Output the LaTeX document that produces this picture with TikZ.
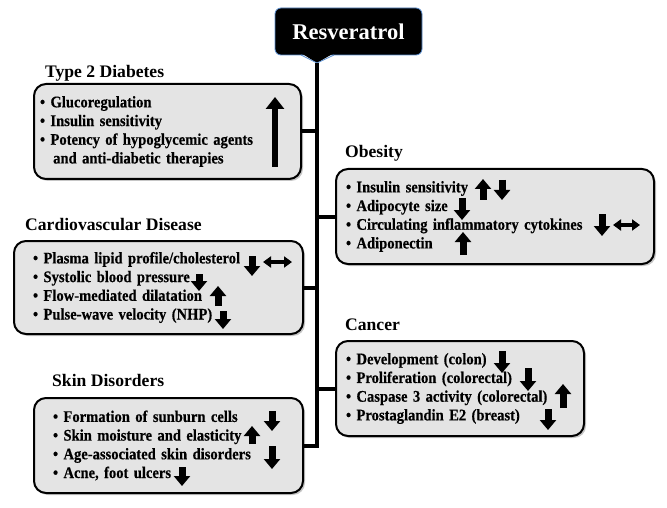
\documentclass[tikz,border=0pt]{standalone}
\usepackage{fontspec}
\setmainfont{Liberation Serif}
\newfontfamily\itemfont{Liberation Serif}[FakeStretch=0.9, WordSpace=0.85, FakeBold=0.4]
\usetikzlibrary{arrows.meta,shadows}
\definecolor{panelgray}{HTML}{E4E4E4}
\definecolor{edgeblue}{HTML}{5B8FD0}
\tikzset{
  panel/.style={draw=black, line width=2pt, fill=panelgray, rounded corners=12pt,
    drop shadow={shadow xshift=2pt, shadow yshift=-2pt, opacity=0.45},
    align=left, anchor=north west, inner ysep=4pt,
    font=\itemfont\fontsize{16.2}{18.7}\selectfont\bfseries},
  heading/.style={anchor=base west, inner sep=0pt, font=\fontsize{17.6}{20}\selectfont\bfseries},
  trunk/.style={line width=4pt},
  uparr/.style={line width=7pt, -{Triangle[width=16pt,length=10pt]}},
  dnarr/.style={line width=7pt, -{Triangle[width=16pt,length=10pt]}},
  both/.style={line width=4.5pt, {Triangle[width=11pt,length=8pt]}-{Triangle[width=11pt,length=8pt]}}
}
\begin{document}
\begin{tikzpicture}[x=1pt,y=-1pt]
  \useasboundingbox (0,0) rectangle (667,508);
  % title
  \node[fill=black, draw=edgeblue, line width=0.8pt, rounded corners=6pt,
    minimum width=147pt, minimum height=47pt, text=white,
    font=\fontsize{22.5}{24}\selectfont\bfseries] (res) at (348.5,31.5) {Resveratrol};
  \coordinate (tip) at (317,63);
  \fill[black] (301,53) -- (tip) -- (334,53) -- cycle;
  \draw[edgeblue, line width=0.8pt] (301,55) -- (tip) -- (334,55);

  % panels
  \node[panel, minimum height=95pt, inner xsep=6pt, text width=255pt] (dia) at (33,83)
    {• Glucoregulation\\• Insulin sensitivity\\• Potency of hypoglycemic agents\\\hphantom{•\ }\,and anti-diabetic therapies};
  \node[panel, minimum height=95pt, inner xsep=10pt, text width=298pt] (obe) at (335,168)
    {• Insulin sensitivity\\• Adipocyte size\\• Circulating inflammatory cytokines\\• Adiponectin};
  \node[panel, minimum height=93pt, inner xsep=19pt, text width=251pt] (cvd) at (13,240)
    {• Plasma lipid profile/cholesterol\\• Systolic blood pressure\\• Flow-mediated dilatation\\• Pulse-wave velocity (NHP)};
  \node[panel, minimum height=95pt, inner xsep=10pt, text width=228pt] (can) at (335,340)
    {• Development (colon)\\• Proliferation (colorectal)\\• Caspase 3 activity (colorectal)\\• Prostaglandin E2 (breast)};
  \node[panel, minimum height=95pt, inner xsep=19pt, text width=231pt] (skin) at (33,397)
    {• Formation of sunburn cells\\• Skin moisture and elasticity\\• Age-associated skin disorders\\• Acne, foot ulcers};

  % headings
  \node[heading] (diat) at (45,78) {Type 2 Diabetes};
  \node[heading] (obet) at (345,158) {Obesity};
  \node[heading] (cvdt) at (25,230) {Cardiovascular Disease};
  \node[heading] (cant) at (345,330) {Cancer};
  \node[heading] (skint) at (52,386) {Skin Disorders};

  % trunk and branches
  \draw[trunk] (tip) |- (skin.east);
  \draw[trunk] (dia.east) -- (dia.east -| tip);
  \draw[trunk] (obe.west) -- (obe.west -| tip);
  \draw[trunk] (cvd.east) -- (cvd.east -| tip);
  \draw[trunk] (can.west) -- (can.west -| tip);

  % effect arrows
  \draw[line width=6.5pt, -{Triangle[width=18pt,length=12pt]}] (275,167) -- (275,97);

  \draw[uparr] (483,200) -- (483,179);
  \draw[dnarr] (502,180) -- (502,200);
  \draw[dnarr] (462,198) -- (462,220);
  \draw[dnarr] (602,214) -- (602,236);
  \draw[both] (613,225) -- (640,225);
  \draw[uparr] (463,255) -- (463,232);

  \draw[dnarr] (252,256) -- (252,276);
  \draw[both] (263,262) -- (292,262);
  \draw[dnarr] (199,274) -- (199,291);
  \draw[uparr] (218,306) -- (218,286);
  \draw[dnarr] (223,311) -- (223,329);

  \draw[dnarr] (502,351) -- (502,373);
  \draw[dnarr] (528,368) -- (528,391);
  \draw[uparr] (563,408) -- (563,384);
  \draw[dnarr] (548,409) -- (548,430);

  \draw[dnarr] (272,411) -- (272,431);
  \draw[uparr] (252,444) -- (252,426);
  \draw[dnarr] (272,446) -- (272,469);
  \draw[dnarr] (182,467) -- (182,486);
\end{tikzpicture}
\end{document}
